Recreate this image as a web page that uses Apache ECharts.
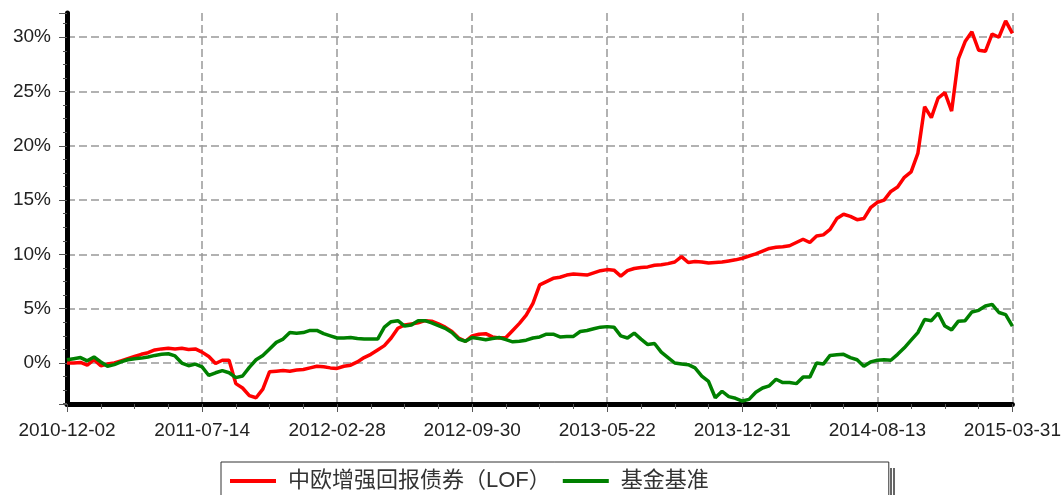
<!DOCTYPE html>
<html><head><meta charset="utf-8">
<script src="https://cdn.jsdelivr.net/npm/echarts@6/dist/echarts.min.js"></script>
<style>html,body{margin:0;padding:0;background:#fff}#c{width:1064px;height:495px}</style>
</head><body><div id="c"></div>
<script>
// x tick labels (one every 20 sample steps)
const tickLabels = ['2010-12-02','2011-07-14','2012-02-28','2012-09-30','2013-05-22','2013-12-31','2014-08-13','2015-03-31'];
const stepsPerLabel = 20;
const seriesNames = ['中欧增强回报债券（LOF）', '基金基准'];
// cumulative return (%), one value per sample step
const fundValues = [
  0.0, 0.0, 0.05, -0.2, 0.3, -0.25, -0.1, 0.0, 0.2, 0.4,
  0.6, 0.8, 0.95, 1.2, 1.3, 1.35, 1.3, 1.35, 1.25, 1.3,
  1.0, 0.6, -0.05, 0.25, 0.25, -1.9, -2.3, -3.0, -3.2, -2.4,
  -0.8, -0.75, -0.7, -0.75, -0.65, -0.6, -0.45, -0.3, -0.35, -0.45,
  -0.5, -0.3, -0.2, 0.1, 0.5, 0.8, 1.2, 1.6, 2.3, 3.2,
  3.5, 3.6, 3.7, 3.9, 3.85, 3.6, 3.3, 2.9, 2.3, 2.0,
  2.5, 2.65, 2.7, 2.4, 2.3, 2.35, 3.0, 3.65, 4.4, 5.5,
  7.2, 7.5, 7.8, 7.9, 8.1, 8.2, 8.15, 8.1, 8.3, 8.5,
  8.6, 8.55, 8.0, 8.5, 8.7, 8.8, 8.85, 9.0, 9.05, 9.15,
  9.3, 9.8, 9.25, 9.35, 9.3, 9.2, 9.25, 9.3, 9.4, 9.5,
  9.65, 9.85, 10.05, 10.3, 10.55, 10.65, 10.7, 10.8, 11.1, 11.4,
  11.1, 11.7, 11.8, 12.3, 13.3, 13.7, 13.5, 13.2, 13.3, 14.3,
  14.8, 15.0, 15.8, 16.2, 17.1, 17.6, 19.3, 23.6, 22.6, 24.4,
  24.9, 23.2, 28.0, 29.6, 30.5, 28.8, 28.7, 30.3, 30.0, 31.5,
  30.35
];
const benchValues = [
  0.3, 0.4, 0.5, 0.2, 0.55, 0.1, -0.3, -0.15, 0.1, 0.3,
  0.4, 0.45, 0.55, 0.7, 0.8, 0.85, 0.65, 0.0, -0.25, -0.1,
  -0.35, -1.15, -0.9, -0.7, -0.9, -1.35, -1.2, -0.4, 0.3, 0.7,
  1.3, 1.9, 2.2, 2.8, 2.75, 2.8, 3.0, 3.0, 2.7, 2.5,
  2.3, 2.3, 2.35, 2.25, 2.2, 2.2, 2.2, 3.3, 3.8, 3.9,
  3.4, 3.5, 3.9, 3.9, 3.7, 3.45, 3.2, 2.8, 2.2, 2.0,
  2.35, 2.25, 2.15, 2.25, 2.35, 2.15, 1.95, 2.0, 2.1, 2.3,
  2.4, 2.65, 2.65, 2.4, 2.43, 2.45, 2.9, 3.0, 3.15, 3.3,
  3.35, 3.3, 2.5, 2.3, 2.75, 2.2, 1.7, 1.8, 1.0, 0.5,
  0.0, -0.1, -0.15, -0.45, -1.2, -1.7, -3.2, -2.6, -3.1, -3.25,
  -3.5, -3.35, -2.7, -2.3, -2.1, -1.5, -1.8, -1.8, -1.9, -1.3,
  -1.3, 0.0, -0.1, 0.7, 0.75, 0.8, 0.5, 0.3, -0.3, 0.1,
  0.25, 0.3, 0.25, 0.8, 1.4, 2.1, 2.8, 4.0, 3.9, 4.6,
  3.4, 3.05, 3.85, 3.9, 4.7, 4.85, 5.25, 5.4, 4.65, 4.45,
  3.4
];
const seriesColors = ['#ff0000', '#008000'];

const lastStep = (tickLabels.length - 1) * stepsPerLabel;
const toPoints = arr => arr.map((v, i) => [i, v]);
const axisFont = 'Liberation Sans, Arial, sans-serif';

const chart = echarts.init(document.getElementById('c'), null, {renderer: 'canvas'});
chart.setOption({
  animation: false,
  backgroundColor: '#ffffff',
  grid: {left: 67, right: 51, top: 13, bottom: 91, containLabel: false},
  xAxis: {
    type: 'value', min: 0, max: lastStep, interval: stepsPerLabel,
    axisLine: {show: true, onZero: false, lineStyle: {color: '#000', width: 5, cap: 'round'}},
    axisTick: {show: true, length: 8, lineStyle: {color: '#555', width: 1}},
    minorTick: {show: true, splitNumber: 4, length: 5, lineStyle: {color: '#555', width: 1}},
    axisLabel: {
      margin: 17, fontSize: 19, color: '#222', fontFamily: axisFont,
      formatter: v => tickLabels[Math.round(v / stepsPerLabel)] || ''
    },
    splitLine: {show: true, showMinLine: false, showMaxLine: true, lineStyle: {color: '#999', width: 1.5, type: [8, 4]}}
  },
  yAxis: {
    type: 'value', min: -3.775, max: 32.23, splitNumber: 7,
    axisLine: {show: true, onZero: false, lineStyle: {color: '#000', width: 5, cap: 'round'}},
    axisTick: {show: true, length: 8, lineStyle: {color: '#555', width: 1}},
    minorTick: {show: true, splitNumber: 4, length: 4, lineStyle: {color: '#555', width: 1}},
    axisLabel: {
      margin: 16, fontSize: 19, color: '#222', fontFamily: axisFont,
      showMinLabel: false, showMaxLabel: false,
      formatter: v => (Math.abs(v % 5) < 1e-6 ? Math.round(v) + '%' : '')
    },
    splitLine: {show: true, showMinLine: false, showMaxLine: false, lineStyle: {color: '#999', width: 1.5, type: [8, 4]}}
  },
  legend: {
    left: 221, top: 462, orient: 'horizontal',
    padding: [8, 180, 14, 9], itemGap: 12, itemWidth: 46, itemHeight: 4, icon: 'rect',
    borderColor: '#333', borderWidth: 1,
    textStyle: {fontSize: 22, color: '#333', fontFamily: 'Liberation Sans, Noto Sans CJK SC, sans-serif', padding: [0, 0, 0, 7]},
    data: seriesNames
  },
  graphic: [
    {type: 'line', shape: {x1: 891, y1: 468, x2: 891, y2: 495}, style: {stroke: '#333', lineWidth: 1.5}},
    {type: 'line', shape: {x1: 894, y1: 468, x2: 894, y2: 495}, style: {stroke: '#333', lineWidth: 1.5}}
  ],
  series: [
    {name: seriesNames[0], type: 'line', data: toPoints(fundValues), showSymbol: false, symbol: 'none',
     lineStyle: {color: seriesColors[0], width: 3.5}, itemStyle: {color: seriesColors[0]}, z: 2},
    {name: seriesNames[1], type: 'line', data: toPoints(benchValues), showSymbol: false, symbol: 'none',
     lineStyle: {color: seriesColors[1], width: 3.5}, itemStyle: {color: seriesColors[1]}, z: 3}
  ]
});
</script></body></html>
